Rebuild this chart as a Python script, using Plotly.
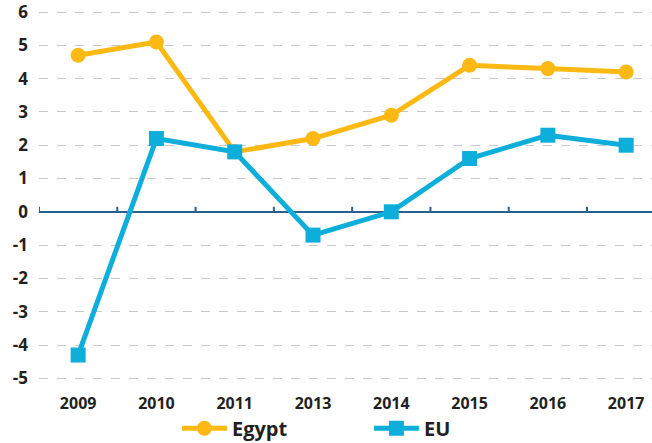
import plotly.graph_objects as go

years = ["2009", "2010", "2011", "2013", "2014", "2015", "2016", "2017"]
egypt = [4.7, 5.1, 1.8, 2.2, 2.9, 4.4, 4.3, 4.2]
eu = [-4.3, 2.2, 1.8, -0.7, 0.0, 1.6, 2.3, 2.0]
y_ticks = [6, 5, 4, 3, 2, 1, 0, -1, -2, -3, -4, -5]

EGYPT_C = "#FDB913"
EU_C = "#0EAEDB"
AXIS_C = "#2B5F8E"
TXT_C = "#231F20"

xi = list(range(len(years)))

fig = go.Figure()
fig.add_trace(go.Scatter(
    x=xi, y=egypt, name="Egypt", mode="lines+markers",
    line=dict(color=EGYPT_C, width=5),
    marker=dict(symbol="circle", size=15, color=EGYPT_C),
))
fig.add_trace(go.Scatter(
    x=xi, y=eu, name="EU", mode="lines+markers",
    line=dict(color=EU_C, width=5),
    marker=dict(symbol="square", size=15, color=EU_C),
))

# zero-line tick marks at category boundaries
shapes = []
for b in [i - 0.5 for i in range(len(years) + 1)]:
    shapes.append(dict(type="line", xref="x", yref="y", x0=b, x1=b,
                       y0=0, y1=0.15, line=dict(color=AXIS_C, width=2), layer="below"))

fig.update_layout(
    width=652, height=443,
    margin=dict(l=39, r=0, t=7, b=53, autoexpand=False),
    paper_bgcolor="white", plot_bgcolor="white",
    font=dict(family="Open Sans", color=TXT_C),
    showlegend=True,
    legend=dict(orientation="h", x=0.225, xanchor="left", y=-0.1, yanchor="middle",
                font=dict(size=20, family="Open Sans", weight="bold", color=TXT_C),
                itemwidth=45, entrywidth=132, tracegroupgap=0, bgcolor="rgba(0,0,0,0)"),
    shapes=shapes,
    xaxis=dict(
        range=[-0.5, 7.33], tickmode="array", tickvals=xi, ticktext=years,
        showgrid=False, zeroline=False, showline=False, ticks="", automargin=False,
        ticklabelstandoff=2, ticklabeloverflow="allow",
        tickfont=dict(size=16, family="Open Sans", weight="bold", color=TXT_C),
    ),
    yaxis=dict(
        range=[-5.35, 6.15], tickmode="array", tickvals=y_ticks,
        ticktext=[str(v) for v in y_ticks],
        showgrid=True, gridcolor="#C8C8C8", griddash="dash", gridwidth=1.2,
        zeroline=True, zerolinecolor=AXIS_C, zerolinewidth=2,
        showline=False, ticks="", ticklabelstandoff=10, automargin=False,
        ticklabeloverflow="allow",
        tickfont=dict(size=17, family="Open Sans", weight="bold", color=TXT_C),
    ),
)

fig.write_html("out.html", config={"displayModeBar": False},
               post_script="document.body.style.margin='0';")
